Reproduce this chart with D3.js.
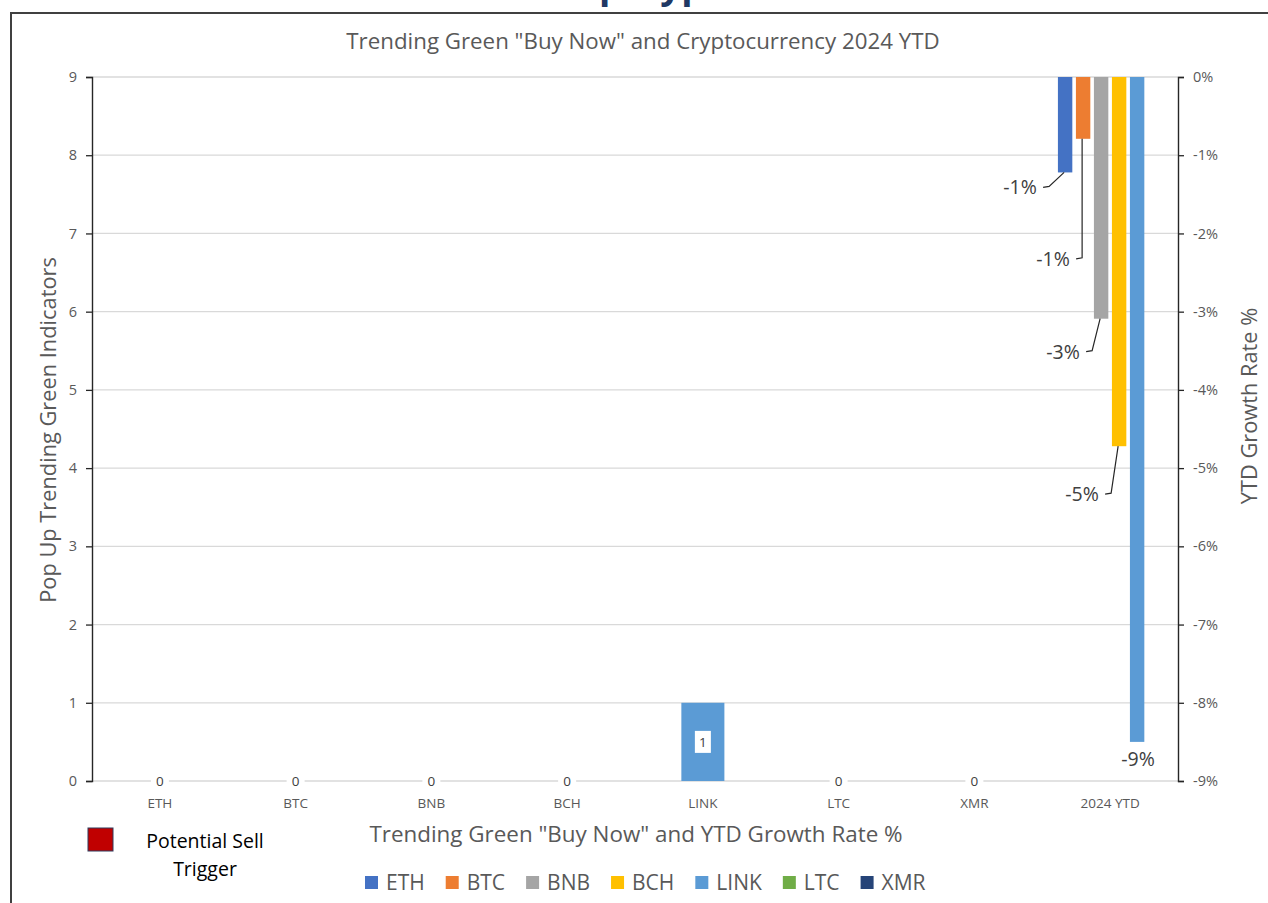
<!DOCTYPE html>
<html>
<head>
<meta charset="utf-8">
<script src="https://cdn.jsdelivr.net/npm/d3@7"></script>
<style>
  body { margin: 0; background: #fff; }
  svg { display: block; font-family: "Open Sans", sans-serif; }
</style>
</head>
<body>
<svg id="chart" width="1268" height="903"></svg>
<script>
// data
const categories = ["ETH", "BTC", "BNB", "BCH", "LINK", "LTC", "XMR", "2024 YTD"];
const coins = ["ETH", "BTC", "BNB", "BCH", "LINK", "LTC", "XMR"];
const coinColors = ["#4472C4", "#ED7D31", "#A5A5A5", "#FFC000", "#5B9BD5", "#70AD47", "#264478"];
const greenIndicators = [0, 0, 0, 0, 1, 0, 0];          // primary axis, per coin category
const ytdCoins = ["ETH", "BTC", "BNB", "BCH", "LINK", "LTC"];
const ytdGrowth = [-0.0122, -0.0079, -0.0309, -0.0472, -0.085, null]; // secondary axis, 2024 YTD
const leftTicks = [0, 1, 2, 3, 4, 5, 6, 7, 8, 9];
const rightTicks = [0, -0.01, -0.02, -0.03, -0.04, -0.05, -0.06, -0.07, -0.08, -0.09];

// label placement (offset from bar end) - layout only
const ytdLabelOffset = [[-45, 15], [-30, 120], [-38, 33], [-37, 48], [1, 17], [0, 0]];

const svg = d3.select("#chart");
const plotL = 92, plotR = 1178, plotT = 77, plotB = 781;
const grey = "#595959";

// excel style: plain hyphen, round half away from zero
const loc = d3.formatLocale({ decimal: ".", thousands: ",", grouping: [3], currency: ["$", ""], minus: "-" });
const pct = loc.format(".0%");
const pctLabel = v => pct(Math.sign(v) * Math.round(Math.abs(v) * 100) / 100);

// frame of the pasted sheet (heading above is cut off)
svg.append("text").attr("x", 571).attr("y", -2)
  .attr("font-size", 37).attr("font-weight", 700).attr("fill", "#203864")
  .text("Up Hype");
svg.append("path").attr("d", "M11,903V13H1268").attr("fill", "none")
  .attr("stroke", "#404040").attr("stroke-width", 2);

const x = d3.scaleBand().domain(categories).range([plotL, plotR]);
const yL = d3.scaleLinear().domain([0, 9]).range([plotB, plotT]);
const yR = d3.scaleLinear().domain([-0.09, 0]).range([plotB, plotT]);
const xIn = d3.scaleBand().domain(ytdCoins)
  .range([x("2024 YTD"), x("2024 YTD") + x.bandwidth()])
  .paddingInner(0.2).paddingOuter(0.87);

// title
svg.append("text").attr("x", 643).attr("y", 49).attr("text-anchor", "middle")
  .attr("font-size", 22.3).attr("fill", grey)
  .text('Trending Green "Buy Now" and Cryptocurrency 2024 YTD');

// gridlines
svg.append("g").selectAll("line").data(leftTicks).join("line")
  .attr("x1", plotL).attr("x2", plotR)
  .attr("y1", d => yL(d)).attr("y2", d => yL(d))
  .attr("stroke", "#d9d9d9").attr("stroke-width", 1.3);

// left axis
const gL = svg.append("g").attr("transform", `translate(${plotL},0)`)
  .call(d3.axisLeft(yL).tickValues(leftTicks).tickSize(6).tickPadding(9));
// right axis
const gR = svg.append("g").attr("transform", `translate(${plotR},0)`)
  .call(d3.axisRight(yR).tickValues(rightTicks).tickSize(6).tickPadding(9).tickFormat(pct));
[gL, gR].forEach(g => {
  g.select(".domain").attr("stroke", "#262626").attr("stroke-width", 1.4);
  g.selectAll(".tick line").attr("stroke", "#262626").attr("stroke-width", 1.3);
  g.selectAll(".tick text").attr("font-size", 14.5).attr("fill", grey).attr("font-family", "Open Sans");
});

// category labels
svg.append("g").selectAll("text").data(categories).join("text")
  .attr("x", d => x(d) + x.bandwidth() / 2).attr("y", 808)
  .attr("text-anchor", "middle").attr("font-size", 13.5).attr("fill", grey)
  .text(d => d);

// primary bars: green indicator counts
const cw = x.bandwidth() * 0.317;
const counts = coins.map((c, i) => ({ coin: c, v: greenIndicators[i], color: coinColors[i] }));
svg.append("g").selectAll("rect").data(counts).join("rect")
  .attr("x", d => x(d.coin) + x.bandwidth() / 2 - cw / 2)
  .attr("width", cw)
  .attr("y", d => yL(d.v))
  .attr("height", d => yL(0) - yL(d.v))
  .attr("fill", d => d.color);

const cLab = svg.append("g").selectAll("g").data(counts).join("g")
  .attr("transform", d => `translate(${x(d.coin) + x.bandwidth() / 2},${d.v > 0 ? (yL(d.v) + yL(0)) / 2 : yL(0)})`);
cLab.append("rect").attr("x", d => d.v > 0 ? -8 : -9).attr("y", d => d.v > 0 ? -11 : -8)
  .attr("width", d => d.v > 0 ? 16 : 18).attr("height", d => d.v > 0 ? 22 : 16)
  .attr("fill", "#fff");
cLab.append("text").attr("text-anchor", "middle").attr("dy", "0.36em")
  .attr("font-size", 13.5).attr("fill", "#404040").text(d => d.v);

// secondary bars: YTD growth
const ytd = ytdCoins.map((c, i) => ({ coin: c, v: ytdGrowth[i], color: coinColors[coins.indexOf(c)], off: ytdLabelOffset[i] }))
  .filter(d => d.v != null);
svg.append("g").selectAll("rect").data(ytd).join("rect")
  .attr("x", d => xIn(d.coin)).attr("width", xIn.bandwidth())
  .attr("y", yR(0)).attr("height", d => yR(d.v) - yR(0))
  .attr("fill", d => d.color);

// YTD labels with leader lines
const ytdLab = svg.append("g");
ytd.forEach(d => {
  const bx = xIn(d.coin) + xIn.bandwidth() / 2, by = yR(d.v);
  const tx = bx + d.off[0], ty = by + d.off[1];
  if (Math.abs(d.off[0]) > 5) {
    ytdLab.append("polyline")
      .attr("points", [[tx + 23, ty], [tx + 29, ty - 1], [bx - 1, by]].map(p => p.join(",")).join(" "))
      .attr("fill", "none").attr("stroke", "#262626").attr("stroke-width", 1.2);
  }
  ytdLab.append("text").attr("x", tx).attr("y", ty).attr("dy", "0.36em")
    .attr("text-anchor", "middle").attr("font-size", 19.5).attr("fill", "#404040")
    .text(pctLabel(d.v));
});

// axis titles
svg.append("text").attr("transform", "translate(56,430) rotate(-90)")
  .attr("text-anchor", "middle").attr("font-size", 21.8).attr("fill", grey)
  .text("Pop Up Trending Green Indicators");
svg.append("text").attr("transform", "translate(1257,406) rotate(-90)")
  .attr("text-anchor", "middle").attr("font-size", 21.8).attr("fill", grey)
  .text("YTD Growth Rate %");
svg.append("text").attr("x", 636).attr("y", 842).attr("text-anchor", "middle")
  .attr("font-size", 22.4).attr("fill", grey)
  .text('Trending Green "Buy Now" and YTD Growth Rate %');

// legend
const lg = svg.append("g").attr("transform", "translate(365,883)");
let legX = 0;
coins.forEach((c, i) => {
  const it = lg.append("g").attr("transform", `translate(${legX},0)`);
  it.append("rect").attr("x", 0).attr("y", -7).attr("width", 13).attr("height", 13).attr("fill", coinColors[i]);
  const t = it.append("text").attr("x", 21).attr("dy", "0.35em")
    .attr("font-size", 21).attr("fill", grey).text(c);
  legX += 21 + t.node().getComputedTextLength() + 21;
});

// side note
svg.append("rect").attr("x", 88).attr("y", 828).attr("width", 25).attr("height", 23)
  .attr("fill", "#C00000").attr("stroke", "#2F3B5C").attr("stroke-width", 1);
svg.append("text").attr("x", 205).attr("y", 841).attr("dy", "0.35em").attr("text-anchor", "middle")
  .attr("font-size", 19.5).attr("fill", "#000").text("Potential Sell");
svg.append("text").attr("x", 205).attr("y", 869).attr("dy", "0.35em").attr("text-anchor", "middle")
  .attr("font-size", 19.5).attr("fill", "#000").text("Trigger");
</script>
</body>
</html>
